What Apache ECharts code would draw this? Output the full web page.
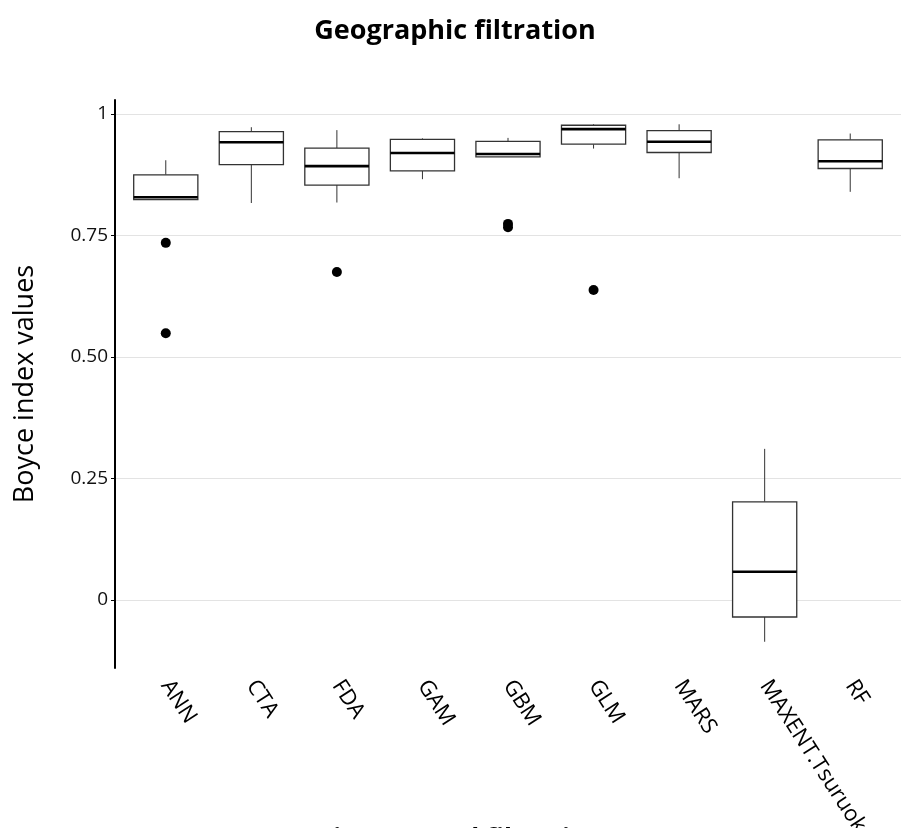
<!DOCTYPE html>
<html>
<head>
<meta charset="utf-8">
<script src="https://cdn.jsdelivr.net/npm/echarts@6/dist/echarts.min.js"></script>
<style>
html,body{margin:0;padding:0;background:#fff;}
#chart{width:901px;height:828px;}
</style>
</head>
<body>
<div id="chart"></div>
<script>
// ---- data ----
const categories = ['ANN','CTA','FDA','GAM','GBM','GLM','MARS','MAXENT.Tsuruoka','RF'];
const whiskerLow  = [0.824, 0.817, 0.818, 0.866, 0.912, 0.929, 0.868, -0.086, 0.840];
const q1          = [0.824, 0.896, 0.854, 0.883, 0.912, 0.938, 0.921, -0.035, 0.888];
const median      = [0.829, 0.942, 0.893, 0.920, 0.918, 0.969, 0.943,  0.058, 0.903];
const q3          = [0.875, 0.964, 0.930, 0.948, 0.944, 0.977, 0.966,  0.202, 0.947];
const whiskerHigh = [0.905, 0.973, 0.967, 0.950, 0.951, 0.979, 0.979,  0.311, 0.960];
const outlierCats   = ['ANN','ANN','FDA','GBM','GBM','GLM'];
const outlierValues = [0.735, 0.549, 0.675, 0.774, 0.767, 0.638];
const yTickValues = [0, 0.25, 0.5, 0.75, 1];
const yTickLabels = ['0', '0.25', '0.50', '0.75', '1'];
const titleText = 'Geographic filtration';
const xTitleText = 'Environmental filtration';
const yTitleText = 'Boyce index values';
const yMin = -0.14, yMax = 1.029;

// ---- build ----
const boxData = categories.map((c, i) => [i, whiskerLow[i], q1[i], median[i], q3[i], whiskerHigh[i]]);
const outlierData = outlierCats.map((c, i) => [categories.indexOf(c), outlierValues[i]]);
const FONT = '"Open Sans", Lato, sans-serif';

const chart = echarts.init(document.getElementById('chart'), null, {renderer: 'canvas'});
chart.setOption({
  backgroundColor: '#fff',
  animation: false,
  graphic: [
    {type: 'text', x: 455, y: 31, style: {text: titleText, font: 'bold 27px ' + FONT, fill: '#000', align: 'center', verticalAlign: 'middle'}},
    {type: 'text', x: 445, y: 828, style: {text: xTitleText, font: 'bold 26px ' + FONT, fill: '#000', align: 'center', verticalAlign: 'top'}}
  ],
  grid: [
    {left: 123, right: 8, top: 100, bottom: 160, outerBoundsMode: 'none', containLabel: false},
    {left: 115, right: 0, top: 100, bottom: 160, outerBoundsMode: 'none', containLabel: false}
  ],
  xAxis: [
    {
      type: 'category', gridIndex: 0, data: categories, boundaryGap: true,
      axisLine: {show: false}, axisTick: {show: false},
      axisLabel: {rotate: -57, margin: 14, fontSize: 22, color: '#000', fontFamily: FONT, interval: 0}
    },
    {type: 'value', gridIndex: 1, min: 0, max: 1, show: false}
  ],
  yAxis: [
    {
      type: 'value', gridIndex: 0, min: yMin, max: yMax, offset: 8,
      name: yTitleText, nameLocation: 'middle', nameGap: 76,
      nameTextStyle: {fontSize: 27, color: '#000', fontFamily: FONT},
      axisLine: {show: true, lineStyle: {color: '#000', width: 2}},
      axisTick: {show: true, length: 4, customValues: yTickValues, lineStyle: {color: '#000', width: 1}},
      axisLabel: {customValues: yTickValues, margin: 7, fontSize: 19, color: '#111', fontFamily: FONT,
        formatter: v => { const k = yTickValues.findIndex(t => Math.abs(t - v) < 1e-9); return k >= 0 ? yTickLabels[k] : ''; }},
      splitLine: {show: false}
    },
    {
      type: 'value', gridIndex: 1, min: yMin, max: yMax,
      axisLine: {show: false},
      axisTick: {show: false, customValues: yTickValues},
      axisLabel: {show: false, customValues: yTickValues},
      splitLine: {show: true, lineStyle: {color: '#e3e3e3', width: 1}}
    }
  ],
  series: [
    {
      type: 'custom', xAxisIndex: 0, yAxisIndex: 0,
      data: boxData,
      encode: {x: 0, y: [1, 2, 3, 4, 5]},
      renderItem: function (params, api) {
        const i = api.value(0);
        const lo = api.coord([i, api.value(1)]);
        const b1 = api.coord([i, api.value(2)]);
        const md = api.coord([i, api.value(3)]);
        const b3 = api.coord([i, api.value(4)]);
        const hi = api.coord([i, api.value(5)]);
        const w = api.size([1, 0])[0] * 0.75;
        const x = lo[0];
        return {
          type: 'group',
          children: [
            {type: 'line', shape: {x1: x, y1: hi[1], x2: x, y2: b3[1]}, style: {stroke: '#333', lineWidth: 1}},
            {type: 'line', shape: {x1: x, y1: b1[1], x2: x, y2: lo[1]}, style: {stroke: '#333', lineWidth: 1}},
            {type: 'rect', shape: {x: x - w / 2, y: b3[1], width: w, height: b1[1] - b3[1]}, style: {fill: '#fff', stroke: '#333', lineWidth: 1.3}},
            {type: 'line', shape: {x1: x - w / 2, y1: md[1], x2: x + w / 2, y2: md[1]}, style: {stroke: '#000', lineWidth: 2.6}}
          ]
        };
      }
    },
    {
      type: 'scatter', xAxisIndex: 0, yAxisIndex: 0,
      data: outlierData, symbol: 'circle', symbolSize: 10,
      itemStyle: {color: '#000', opacity: 1}
    }
  ]
});
</script>
</body>
</html>
